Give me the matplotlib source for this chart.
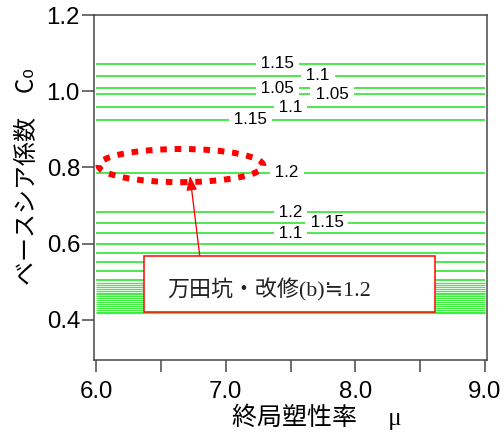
import matplotlib.pyplot as plt
from matplotlib.patches import Ellipse, Rectangle
from matplotlib.ticker import MultipleLocator

plt.rcParams.update({'font.family': ['Liberation Sans', 'Noto Sans CJK JP', 'DejaVu Sans']})

# contour levels (all horizontal)
line_c0 = [1.0726, 1.040, 1.0084, 0.9916, 0.9583, 0.9256, 0.7868,
           0.6829, 0.6549, 0.6274, 0.6003, 0.5757, 0.552, 0.529, 0.5053]
dense_c0 = [0.497, 0.492, 0.487, 0.482, 0.477, 0.472, 0.467, 0.462, 0.457,
            0.452, 0.447, 0.442, 0.437, 0.432, 0.427, 0.422, 0.418]
mu_min, mu_max = 6.0, 9.0

# contour labels: (mu, C0, text)
label_mu = [7.40, 7.71, 7.40, 7.82, 7.50, 7.19, 7.47, 7.50, 7.78, 7.50]
label_c0 = [1.0726, 1.040, 1.0084, 0.9916, 0.9583, 0.9256, 0.7868, 0.6829, 0.6549, 0.6274]
label_txt = ['1.15', '1.1', '1.05', '1.05', '1.1', '1.15', '1.2', '1.2', '1.15', '1.1']

fig = plt.figure(figsize=(7, 6), dpi=72)
ax = fig.add_axes([94/504, 1-360/432, 393/504, 345/432])

ax.hlines(line_c0, mu_min, mu_max, color='#33e633', lw=1.7, zorder=2)
ax.hlines(dense_c0, mu_min, mu_max, color='#40ee40', lw=1.2, zorder=2)
for m, c, t in zip(label_mu, label_c0, label_txt):
    ax.text(m, c, ' ' + t + ' ', fontsize=17, ha='center', va='center', zorder=3,
            bbox=dict(boxstyle='square,pad=0.02', fc='white', ec='none'))

# highlighted contour
ell = Ellipse((6.655, 0.805), 1.27, 0.087, fill=False, ec='red', lw=6,
              linestyle=(0, (1.1, 1.3)), clip_on=False, zorder=5)
ax.add_patch(ell)
ax.annotate('', xy=(6.725, 0.778), xytext=(6.80, 0.569),
            arrowprops=dict(arrowstyle='-|>,head_length=1.2,head_width=0.45',
                            color='red', lw=1.3, shrinkA=0, shrinkB=0), zorder=6)

ax.add_patch(Rectangle((0.127, 0.139), 0.741, 0.162, transform=ax.transAxes,
                       fc='white', ec='red', lw=1.5, zorder=7))
ax.text(0.186, 0.203, '万田坑・改修(b)≒1.2', transform=ax.transAxes, fontsize=22,
        family=['Liberation Serif', 'Noto Sans CJK JP', 'DejaVu Sans'], ha='left',
        va='center', color='#222222', zorder=8)

ax.set_xlim(5.985, 9.015)
ax.set_ylim(0.295, 1.2)
ax.set_xticks([6, 7, 8, 9])
ax.set_xticklabels(['6.0', '7.0', '8.0', '9.0'])
ax.xaxis.set_minor_locator(MultipleLocator(0.5))
ax.set_yticks([0.4, 0.6, 0.8, 1.0, 1.2])
ax.set_yticklabels(['0.4', '0.6', '0.8', '1.0', '1.2'])
for s in ax.spines.values():
    s.set_color('#444444')
    s.set_linewidth(1.5)
ax.tick_params(which='both', direction='out', length=12, width=1.5, color='#444444',
               labelsize=24)
ax.tick_params(axis='y', pad=2)
ax.tick_params(axis='x', pad=9)

fig.text(27/504, 1-177/432, 'ベースシア係数　C₀', rotation=90, fontsize=24,
         family=['Noto Sans CJK JP', 'DejaVu Sans'], ha='center', va='center')
fig.text(232/504, 1-417/432, '終局塑性率　 μ', fontsize=25,
         family=['Liberation Serif', 'Noto Sans CJK JP'], ha='left', va='center')

plt.savefig('out.png', dpi=72)
